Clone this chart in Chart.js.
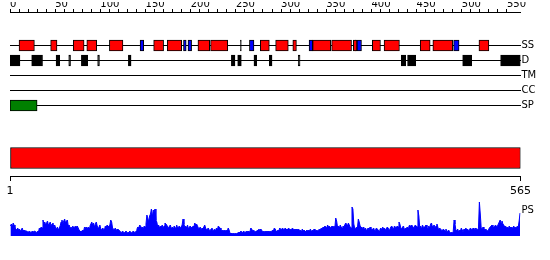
<!DOCTYPE html>
<html><head><meta charset="utf-8">
<script src="https://cdn.jsdelivr.net/npm/chart.js@4/dist/chart.umd.min.js"></script>
<style>
html,body{margin:0;padding:0;background:#fff;}
#wrap{position:relative;width:550px;height:260px;overflow:hidden;background:#fff;}
canvas{position:absolute;left:0;}
</style></head><body>
<div id="wrap">
<canvas id="ruler" width="550" height="22" style="top:0px"></canvas>
<canvas id="rows" width="550" height="90" style="top:30px"></canvas>
<canvas id="domain" width="550" height="75" style="top:130px"></canvas>
<canvas id="profile" width="550" height="56" style="top:188px"></canvas>
</div>
<script>
// ---------- data ----------
const seqLength = 565;
const rulerLabels = [0,50,100,150,200,250,300,350,400,450,500,550];
const axisEnds = [0, 565];
const axisEndLabels = ['1', '565'];
const rowLabels = ['SS', 'D', 'TM', 'CC', 'SP'];
const profileLabel = 'PS';

// secondary structure (residue start, end)
const helices = [[11,27],[46,52],[71,82],[86,96],[111,125],[160,170],[175,190],[209,221],[223,241],
  [278,287],[295,308],[314,317],[336,355],[357,378],[381,384],[402,410],[415,431],[455,465],[469,490],[520,530]];
const strands = [[145,148],[193,195],[198,201],[266,270],[332,335],[385,389],[492,497]];
const coilMarks = [[256,256],[383,383]];
// disorder
const disorder = [[1,11],[25,36],[52,55],[66,67],[80,86],[98,99],[132,134],[246,249],[253,256],
  [271,273],[288,290],[320,321],[434,438],[441,449],[502,511],[544,565]];
const transmembrane = [];
const coiledCoil = [];
const signalPeptide = [[1,30]];
const domains = [[1,565]];

// per-residue profile (PS)
const psValues = [
10,12,9,13,11,8,7,6,8,6, 7,5,6,8,5,6,4,5,5,4, 4,5,4,3,5,4,4,5,4,3, 5,4,8,7,9,8,16,12,14,11,
13,15,11,12,14,10,12,13,9,11, 8,7,9,6,8,10,14,16,12,15, 17,13,15,16,10,11,8,9,7,10, 8,9,10,9,10,8,6,5,4,5,
6,5,9,8,9,7,9,8,10,12, 14,11,13,9,12,14,10,8,9,11, 7,6,8,7,6,10,9,11,10,9, 11,16,14,8,7,6,8,5,7,6,
6,5,4,3,5,4,3,4,5,3, 4,3,5,4,3,4,5,4,3,5, 7,9,8,11,10,8,9,7,10,9, 12,21,18,14,20,22,27,19,26,24,
27,16,14,9,11,8,10,9,11,8, 10,13,12,11,9,8,10,11,7,9, 8,10,9,7,11,8,9,10,8,9, 11,17,12,9,10,8,11,7,9,10,
8,9,10,9,13,11,12,10,8,7, 9,6,8,7,9,11,8,6,7,8, 6,5,7,8,5,6,7,5,8,6, 10,9,8,6,5,6,5,6,5,6,
5,8,6,3,2,3,2,3,2,3, 2,3,3,4,3,5,4,3,5,4, 3,5,4,5,3,4,8,7,5,6, 5,4,5,5,6,7,5,7,6,4,
5,4,5,4,5,3,5,4,5,4, 6,5,8,7,5,4,6,5,8,7, 6,8,7,6,8,7,6,7,8,6, 7,6,8,7,6,7,5,7,6,7,
5,6,4,7,5,6,5,4,6,5, 6,5,7,4,6,5,7,6,5,6, 5,6,7,6,8,7,9,8,10,9, 8,11,9,10,8,9,10,9,10,8,
18,15,9,10,8,11,9,8,10,9, 11,13,12,10,13,11,9,8,29,27, 12,8,7,9,8,17,14,10,9,8, 7,9,6,8,5,7,8,6,9,7,
6,7,8,5,6,8,7,6,5,7, 8,6,9,7,8,6,7,9,8,6, 7,9,10,8,7,10,9,8,10,9, 14,12,8,7,9,10,6,8,7,9,
8,10,11,9,11,10,8,9,11,10, 9,26,20,8,10,7,11,9,8,10, 11,9,7,10,8,12,13,9,10,11, 8,10,12,9,6,8,7,6,5,7,
6,5,7,4,5,6,4,3,4,3, 4,16,12,6,5,7,4,6,5,8, 6,4,7,5,8,6,7,5,6,8, 7,6,8,7,6,8,7,6,8,34,
22,8,7,9,8,6,7,6,5,6, 8,9,10,11,8,9,10,11,9,10, 12,14,16,13,15,12,11,9,10,8, 9,7,10,8,9,7,8,10,8,9,
8,10,9,15,23];

// ---------- drawing ----------
Chart.defaults.font.family = "'DejaVu Sans', sans-serif";
Chart.defaults.font.size = 10;
Chart.defaults.color = '#000';
const common = {responsive:false, animation:false, devicePixelRatio:1, events:[],
  plugins:{legend:{display:false}, tooltip:{enabled:false}}};

function barSet(list, row, color, thick){
  return {data:list.map(([s,e]) => ({y:row, x:[s-1, e]})), backgroundColor:color,
    borderColor:'#000', borderWidth:1, borderSkipped:false, barThickness:thick, grouped:false};
}

// ruler
new Chart(document.getElementById('ruler'), {
  type:'line', data:{datasets:[]},
  options:{...common,
    layout:{padding:{left:10, right:29.5, top:2, bottom:0}},
    scales:{
      x:{type:'linear', position:'top', min:0, max:seqLength,
        afterBuildTicks: s => { s.ticks = s.ticks.filter(t => t.value % 10 === 0); },
        ticks:{stepSize:10, autoSkip:false, maxRotation:0, align:'start', padding:0,
          font:{size:10, lineHeight:0.9}, callback: v => rulerLabels.includes(v) ? String(v) : ''},
        grid:{drawOnChartArea:false, drawTicks:true, tickLength:3, color:'#000'},
        border:{display:true, color:'#000'}},
      y:{display:false, min:0, max:1}
    }}
});

// feature rows
new Chart(document.getElementById('rows'), {
  type:'bar',
  data:{labels:rowLabels, datasets:[
    barSet(helices, 'SS', '#ff0000', 11),
    barSet(strands, 'SS', '#0000ff', 11),
    barSet(coilMarks, 'SS', '#000000', 11),
    barSet(disorder, 'D', '#000000', 11),
    barSet(transmembrane, 'TM', '#ffff00', 11),
    barSet(coiledCoil, 'CC', '#00ffff', 11),
    barSet(signalPeptide, 'SP', '#008000', 11)
  ]},
  options:{...common, indexAxis:'y',
    layout:{padding:{left:10, right:0, top:8, bottom:7}},
    scales:{
      x:{type:'linear', min:0, max:seqLength, display:false},
      y:{type:'category', position:'right', offset:true,
        grid:{offset:false, color:'#000', lineWidth:1, drawTicks:false},
        border:{display:false},
        ticks:{padding:1, font:{size:10}},
        afterFit: s => { s.width = 29.5; }}
    }}
});

// domain bar with sequence axis
new Chart(document.getElementById('domain'), {
  type:'bar',
  data:{labels:['', 'domain', ' '], datasets:[
    {data:domains.map(([s,e]) => ({y:'domain', x:[s-1, e]})), backgroundColor:'#ff0000',
     borderColor:'#000', borderWidth:1, borderSkipped:false, barThickness:21}
  ]},
  options:{...common, indexAxis:'y',
    layout:{padding:{left:10, right:29.5, top:10, bottom:3}},
    scales:{
      x:{type:'linear', position:'bottom', min:0, max:seqLength,
        afterBuildTicks: s => { s.ticks = axisEnds.map(v => ({value:v})); },
        ticks:{autoSkip:false, maxRotation:0, padding:5, font:{size:11, lineHeight:1},
          callback:(v, i) => axisEndLabels[i]},
        grid:{drawOnChartArea:false, drawTicks:true, tickLength:5, color:'#000'},
        border:{display:true, color:'#000'}},
      y:{type:'category', display:false, offset:false}
    }}
});

// profile
new Chart(document.getElementById('profile'), {
  type:'line',
  data:{datasets:[{data:psValues.map((v, i) => ({x:i + 0.5, y:v})), borderColor:'#0000ff',
    backgroundColor:'#0000ff', borderWidth:1, pointRadius:0, fill:'origin', tension:0}]},
  options:{...common,
    layout:{padding:{left:10, right:0, top:8, bottom:8}},
    scales:{
      x:{type:'linear', min:0, max:seqLength, display:false},
      y:{position:'right', min:0, max:40,
        grid:{display:false, drawTicks:false}, border:{display:false},
        afterBuildTicks: s => { s.ticks = [{value:26}]; },
        ticks:{padding:1, font:{size:10}, callback:() => profileLabel},
        afterFit: s => { s.width = 29.5; }}
    }}
});
</script>
</body></html>
